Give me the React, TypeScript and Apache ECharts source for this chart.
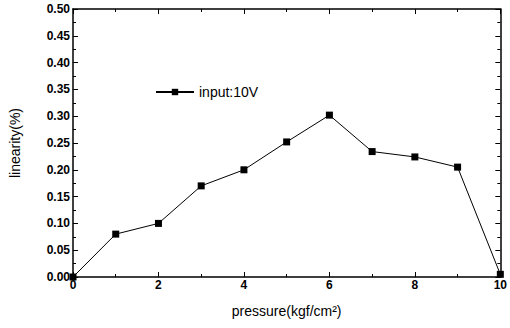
import React, { useEffect, useRef } from "react";
import * as echarts from "echarts";

const pressure = [0, 1, 2, 3, 4, 5, 6, 7, 8, 9, 10];
const linearity = [0.0, 0.08, 0.1, 0.17, 0.2, 0.252, 0.302, 0.234, 0.224, 0.205, 0.005];
const seriesName = "input:10V";
const xTitle = "pressure(kgf/cm²)";
const yTitle = "linearity(%)";

export default function App() {
  const ref = useRef<HTMLDivElement>(null);
  useEffect(() => {
    const chart = echarts.init(ref.current!, null, { renderer: "svg" });
    const font = "Liberation Sans";
    const axisLine = { show: true, onZero: false, lineStyle: { color: "#000", width: 1.5 } };
    const tick = { show: true, inside: true, length: 5, lineStyle: { color: "#000" } };
    const minor = { show: true, splitNumber: 2, length: 3, lineStyle: { color: "#000" } };
    chart.setOption({
      animation: false,
      backgroundColor: "#fff",
      textStyle: { fontFamily: font },
      grid: { left: 71, right: 7, top: 9, bottom: 51, containLabel: false },
      legend: {
        show: true,
        left: 150,
        top: 80,
        itemWidth: 38,
        itemHeight: 8,
        itemGap: 4,
        textStyle: { fontFamily: font, fontSize: 14, color: "#000" },
        data: [seriesName],
      },
      xAxis: [
        {
          type: "value",
          min: 0,
          max: 10,
          interval: 2,
          position: "bottom",
          axisLine,
          axisTick: tick,
          minorTick: minor,
          splitLine: { show: false },
          axisLabel: { color: "#000", fontWeight: "bold", fontSize: 12, fontFamily: font, margin: 2 },
          name: xTitle,
          nameLocation: "middle",
          nameGap: 27,
          nameTextStyle: { color: "#000", fontSize: 14, fontFamily: font },
        },
        {
          type: "value",
          min: 0,
          max: 10,
          interval: 2,
          position: "top",
          axisLine,
          axisTick: tick,
          minorTick: minor,
          splitLine: { show: false },
          axisLabel: { show: false },
        },
      ],
      yAxis: [
        {
          type: "value",
          min: 0,
          max: 0.5,
          interval: 0.05,
          position: "left",
          axisLine,
          axisTick: tick,
          minorTick: minor,
          splitLine: { show: false },
          axisLabel: {
            color: "#000",
            fontWeight: "bold",
            fontSize: 12,
            fontFamily: font,
            margin: 3,
            formatter: (v: number) => v.toFixed(2),
          },
          name: yTitle,
          nameLocation: "middle",
          nameGap: 51,
          nameTextStyle: { color: "#000", fontSize: 14, fontFamily: font },
        },
        {
          type: "value",
          min: 0,
          max: 0.5,
          interval: 0.05,
          position: "right",
          axisLine,
          axisTick: tick,
          minorTick: minor,
          splitLine: { show: false },
          axisLabel: { show: false },
        },
      ],
      series: [
        {
          name: seriesName,
          type: "line",
          xAxisIndex: 0,
          yAxisIndex: 0,
          data: pressure.map((p, i) => [p, linearity[i]]),
          symbol: "rect",
          symbolSize: 7,
          lineStyle: { color: "#000", width: 1 },
          itemStyle: { color: "#000" },
          clip: false,
        },
      ],
    });
    return () => chart.dispose();
  }, []);
  return <div ref={ref} style={{ width: 510, height: 328, position: "absolute", left: 0, top: 0 }} />;
}
